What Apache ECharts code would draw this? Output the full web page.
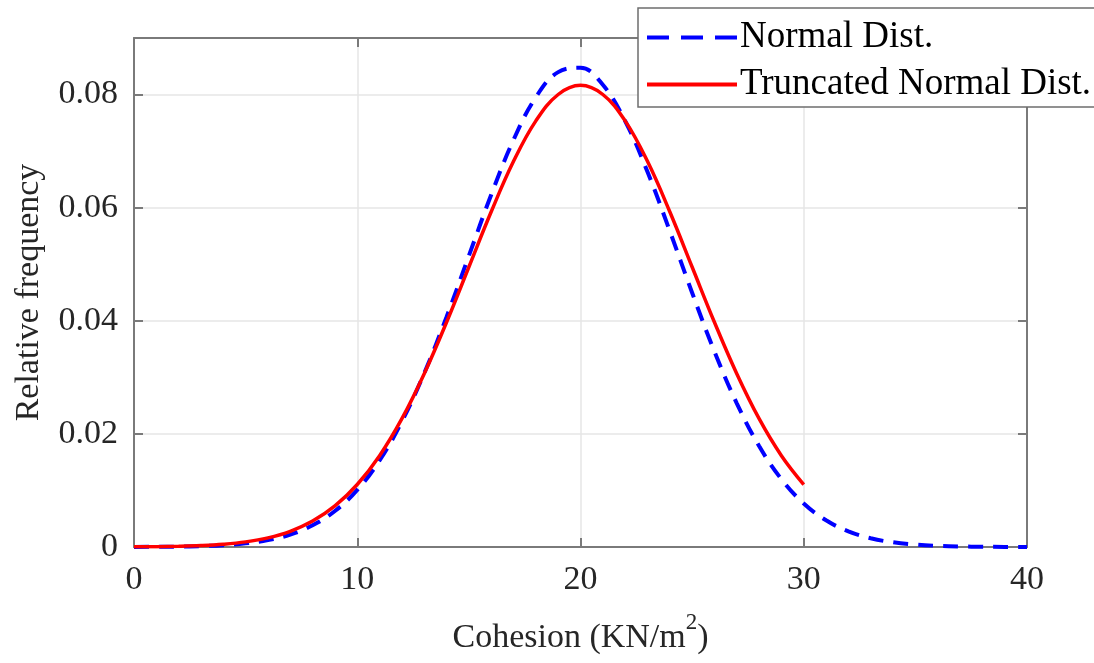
<!DOCTYPE html>
<html>
<head>
<meta charset="utf-8">
<script src="https://cdn.jsdelivr.net/npm/echarts@6/dist/echarts.min.js"></script>
<style>
  html, body { margin: 0; padding: 0; background: #fff; }
  #chart { width: 1094px; height: 663px; }
</style>
</head>
<body>
<div id="chart"></div>
<script>
// values
const xNormal = [0, 1, 2, 3, 4, 5, 6, 7, 8, 9, 10, 11, 12, 13, 14, 15, 16, 17, 18, 19, 20,
  21, 22, 23, 24, 25, 26, 27, 28, 29, 30, 31, 32, 33, 34, 35, 36, 37, 38, 39, 40];
const normalValues = [0.000013, 0.000031, 0.000071, 0.000154, 0.00032, 0.00064, 0.00121, 0.0022,
  0.00383, 0.00636, 0.01009, 0.01531, 0.02219, 0.03073, 0.04069, 0.05149, 0.06228, 0.07199,
  0.07953, 0.08397, 0.08473, 0.08172, 0.07532, 0.06635, 0.05587, 0.04496, 0.03457, 0.02541,
  0.01785, 0.01199, 0.00769, 0.00472, 0.00277, 0.00155, 0.00083, 0.00042, 0.00021, 0.0001,
  0.00004, 0.00002, 0.00001];
const xTruncated = [0, 1, 2, 3, 4, 5, 6, 7, 8, 9, 10, 11, 12, 13, 14, 15, 16, 17, 18, 19, 20,
  21, 22, 23, 24, 25, 26, 27, 28, 29, 30];
const truncatedValues = [0.000027, 0.00006, 0.000125, 0.000252, 0.000488, 0.000907, 0.00162,
  0.00278, 0.00458, 0.00726, 0.01105, 0.01615, 0.02269, 0.03064, 0.03974, 0.04951, 0.05927,
  0.06819, 0.07535, 0.08001, 0.08163, 0.08001, 0.07535, 0.06819, 0.05927, 0.04951, 0.03974,
  0.03064, 0.02269, 0.01615, 0.01105];
const yTickLabels = ["0", "0.02", "0.04", "0.06", "0.08"];
const xInnerTicks = [10, 20, 30];
const yInnerTicks = [0.02, 0.04, 0.06, 0.08];

const font = "Liberation Serif";
const boxColor = "#7a7a7a";
const textColor = "#262626";

const chart = echarts.init(document.getElementById("chart"));

function boxAxis(extra, tickValues) {
  return Object.assign({
    type: "value",
    axisLine: { show: true, onZero: false, lineStyle: { color: boxColor, width: 2 } },
    axisTick: {
      show: true, inside: true, length: 9, customValues: tickValues,
      lineStyle: { color: boxColor, width: 2 },
    },
    axisLabel: { show: false },
    splitLine: { show: false },
  }, extra);
}

const option = {
  backgroundColor: "#fff",
  animation: false,
  grid: { left: 134, right: 67, top: 38, bottom: 116, containLabel: false },
  legend: {
    orient: "vertical",
    left: 638,
    top: 8,
    selectedMode: false,
    borderColor: "#6e6e6e",
    borderWidth: 1.5,
    backgroundColor: "#fff",
    padding: [11, 8, 4, 7],
    itemGap: 10,
    itemWidth: 90,
    itemHeight: 14,
    itemStyle: { opacity: 0 },
    textStyle: { fontFamily: font, fontSize: 37, color: "#000", padding: [0, 0, 0, -2] },
    data: [
      { name: "Normal Dist.", lineStyle: { width: 4, type: [22, 12] } },
      { name: "Truncated Normal Dist.", lineStyle: { width: 4 } },
    ],
  },
  xAxis: [
    boxAxis({
      position: "bottom",
      min: 0,
      max: 40,
      interval: 10,
      axisLabel: { show: true, margin: 16, fontFamily: font, fontSize: 34, color: textColor },
      splitLine: { show: true, lineStyle: { color: "#e6e6e6", width: 1.5 } },
      name: "{n|Cohesion (KN/m}{s|2}{n|)}",
      nameLocation: "middle",
      nameGap: 64,
      nameTextStyle: {
        rich: {
          n: { fontFamily: font, fontSize: 34, color: textColor, lineHeight: 44, verticalAlign: "bottom" },
          s: { fontFamily: font, fontSize: 23, color: textColor, lineHeight: 44, verticalAlign: "top" },
        },
      },
    }, xInnerTicks),
    boxAxis({ position: "top", min: 0, max: 40, interval: 10 }, xInnerTicks),
  ],
  yAxis: [
    boxAxis({
      position: "left",
      min: 0,
      max: 0.09,
      interval: 0.02,
      axisLabel: {
        show: true,
        margin: 16,
        showMaxLabel: false,
        fontFamily: font,
        fontSize: 34,
        color: textColor,
        formatter: (v) => yTickLabels[Math.round(v / 0.02)] ?? "",
      },
      splitLine: { show: true, lineStyle: { color: "#e6e6e6", width: 1.5 } },
      name: "Relative frequency",
      nameLocation: "middle",
      nameGap: 88,
      nameTextStyle: { fontFamily: font, fontSize: 34, color: textColor },
    }, yInnerTicks),
    boxAxis({ position: "right", min: 0, max: 0.09, interval: 0.02 }, yInnerTicks),
  ],
  series: [
    {
      name: "Normal Dist.",
      type: "line",
      showSymbol: false,
      symbol: "none",
      smooth: 0.4,
      color: "#0000ff",
      lineStyle: { color: "#0000ff", width: 4, type: [15, 10] },
      data: xNormal.map((x, i) => [x, normalValues[i]]),
      z: 3,
    },
    {
      name: "Truncated Normal Dist.",
      type: "line",
      showSymbol: false,
      symbol: "none",
      smooth: 0.4,
      color: "#ff0000",
      lineStyle: { color: "#ff0000", width: 3.5 },
      data: xTruncated.map((x, i) => [x, truncatedValues[i]]),
      z: 4,
    },
  ],
};

chart.setOption(option);
</script>
</body>
</html>
